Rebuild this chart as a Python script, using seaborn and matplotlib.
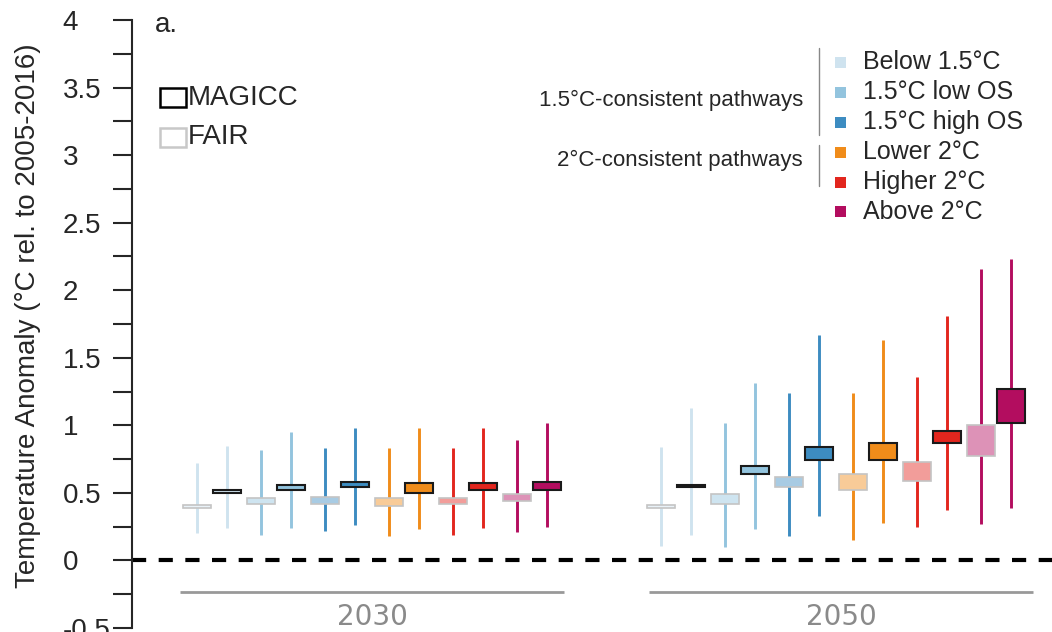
import numpy as np
import pandas as pd
import seaborn as sns
import matplotlib.pyplot as plt
from matplotlib.patches import Rectangle
from matplotlib.colors import to_rgb

# pathway classes and colours
categories = ["Below 1.5°C", "1.5°C low OS", "1.5°C high OS",
              "Lower 2°C", "Higher 2°C", "Above 2°C"]
colors = ["#cfe3ef", "#93c4de", "#3d8cc1", "#f08c1a", "#e2261e", "#b30d5f"]
years = ["2030", "2050"]

# whisker min, box low, box high, whisker max (per category)
fair_2030_min = [0.20, 0.19, 0.22, 0.18, 0.19, 0.21]
fair_2030_q1 = [0.39, 0.42, 0.42, 0.40, 0.42, 0.44]
fair_2030_q3 = [0.41, 0.46, 0.47, 0.46, 0.46, 0.49]
fair_2030_max = [0.72, 0.82, 0.83, 0.83, 0.83, 0.89]

magicc_2030_min = [0.24, 0.24, 0.26, 0.23, 0.24, 0.25]
magicc_2030_q1 = [0.50, 0.52, 0.54, 0.50, 0.52, 0.52]
magicc_2030_q3 = [0.52, 0.56, 0.58, 0.57, 0.57, 0.58]
magicc_2030_max = [0.85, 0.95, 0.98, 0.98, 0.98, 1.02]

fair_2050_min = [0.11, 0.10, 0.18, 0.15, 0.25, 0.27]
fair_2050_q1 = [0.39, 0.42, 0.54, 0.52, 0.59, 0.77]
fair_2050_q3 = [0.41, 0.49, 0.62, 0.64, 0.73, 1.00]
fair_2050_max = [0.84, 1.02, 1.24, 1.24, 1.36, 2.16]

magicc_2050_min = [0.19, 0.23, 0.33, 0.28, 0.37, 0.39]
magicc_2050_q1 = [0.545, 0.64, 0.74, 0.74, 0.87, 1.02]
magicc_2050_q3 = [0.56, 0.70, 0.84, 0.87, 0.96, 1.27]
magicc_2050_max = [1.13, 1.31, 1.67, 1.63, 1.81, 2.23]

rows = []
for year, model, lo, q1, q3, hi in [
    ("2030", "FAIR", fair_2030_min, fair_2030_q1, fair_2030_q3, fair_2030_max),
    ("2030", "MAGICC", magicc_2030_min, magicc_2030_q1, magicc_2030_q3, magicc_2030_max),
    ("2050", "FAIR", fair_2050_min, fair_2050_q1, fair_2050_q3, fair_2050_max),
    ("2050", "MAGICC", magicc_2050_min, magicc_2050_q1, magicc_2050_q3, magicc_2050_max),
]:
    for i, cat in enumerate(categories):
        rows.append(dict(year=year, model=model, category=cat, cat_idx=i,
                         lo=lo[i], q1=q1[i], q3=q3[i], hi=hi[i]))
df = pd.DataFrame(rows)

sns.set_style("ticks")
plt.rcParams["font.family"] = ["Liberation Sans", "DejaVu Sans"]

fig = plt.figure(figsize=(10.52, 6.32), dpi=100)
ax = fig.add_axes([132 / 1052, 4 / 632, 920 / 1052, 608 / 632])

year_gap = 7.25
model_shift = {"FAIR": -0.23, "MAGICC": 0.23}
box_w = 0.44


def lighten(c, a=0.45):
    r = np.array(to_rgb(c))
    return tuple(1 - a * (1 - r))


for _, r in df.iterrows():
    x = years.index(r.year) * year_gap + r.cat_idx + model_shift[r.model]
    col = colors[r.cat_idx]
    ax.vlines(x, r.lo, r.hi, color=col, lw=2.1, zorder=2)
    h = max(r.q3 - r.q1, 0.012)
    if r.model == "MAGICC":
        ax.add_patch(Rectangle((x - box_w / 2, r.q1), box_w, h, facecolor=col,
                               edgecolor="#1a1a1a", lw=1.5, zorder=3))
    else:
        ax.add_patch(Rectangle((x - box_w / 2, r.q1), box_w, h, facecolor=lighten(col),
                               edgecolor="#c4c4c4", lw=1.2, zorder=3))

# zero line
ax.axhline(0, color="black", lw=3, ls=(0, (3.4, 3.0)), zorder=1)

# year brackets
for k, yr in enumerate(years):
    c = k * year_gap + 2.5 + 0.08 * k
    ax.plot([c - 3.0, c + 3.0], [-0.235, -0.235], color="#999999", lw=2,
            clip_on=False, solid_capstyle="butt")
    ax.text(c, -0.478, yr, ha="center", va="baseline", color="#8a8a8a", fontsize=20,
            family="DejaVu Sans", clip_on=False)

ax.set_xlim(-1.25, 13.125)
ax.set_ylim(-0.5, 4)
ax.set_xticks([])
ax.set_yticks(np.arange(-0.5, 4.01, 0.5))
ax.set_yticks(np.arange(-0.25, 4.0, 0.5), minor=True)
ax.set_yticklabels(["%g" % v for v in np.arange(-0.5, 4.01, 0.5)])
ax.tick_params(axis="y", which="both", length=14, width=1.5, direction="out",
               labelsize=20, pad=36)
for lab in ax.get_yticklabels():
    lab.set_ha("left")
sns.despine(ax=ax, bottom=True)
ax.spines["left"].set_linewidth(1.5)
ax.patch.set_alpha(0)

fig.text(28 / 1052, 0.5, "Temperature Anomaly (°C rel. to 2005-2016)", rotation=90,
         ha="center", va="center", fontsize=20)
fig.text(155 / 1052, 1 - 25 / 632, "a.", ha="left", va="center", fontsize=20)

# model legend
fig.patches.append(Rectangle((160 / 1052, 1 - 107 / 632), 26 / 1052, 19 / 632,
                             transform=fig.transFigure, facecolor="white",
                             edgecolor="black", lw=1.8))
fig.patches.append(Rectangle((160 / 1052, 1 - 147 / 632), 26 / 1052, 19 / 632,
                             transform=fig.transFigure, facecolor="white",
                             edgecolor="#c8c8c8", lw=1.8))
fig.text(188 / 1052, 1 - 98 / 632, "MAGICC", ha="left", va="center", fontsize=20)
fig.text(188 / 1052, 1 - 137 / 632, "FAIR", ha="left", va="center", fontsize=20)

# category legend
for i, (cat, col) in enumerate(zip(categories, colors)):
    yc = 62 + 30 * i
    fig.patches.append(Rectangle((835 / 1052, 1 - (yc + 5.5) / 632), 11 / 1052, 11 / 632,
                                 transform=fig.transFigure, facecolor=col, lw=0))
    fig.text(863 / 1052, 1 - yc / 632, cat, ha="left", va="center", fontsize=18)

fig.text(803 / 1052, 1 - 100 / 632, "1.5°C-consistent pathways", ha="right",
         va="center", fontsize=16)
fig.text(803 / 1052, 1 - 160 / 632, "2°C-consistent pathways", ha="right",
         va="center", fontsize=16)
fig.add_artist(plt.Line2D([819 / 1052] * 2, [1 - 48 / 632, 1 - 135 / 632],
                          color="#888888", lw=1))
fig.add_artist(plt.Line2D([819 / 1052] * 2, [1 - 145 / 632, 1 - 186 / 632],
                          color="#888888", lw=1))

fig.savefig("out.png", dpi=100)
